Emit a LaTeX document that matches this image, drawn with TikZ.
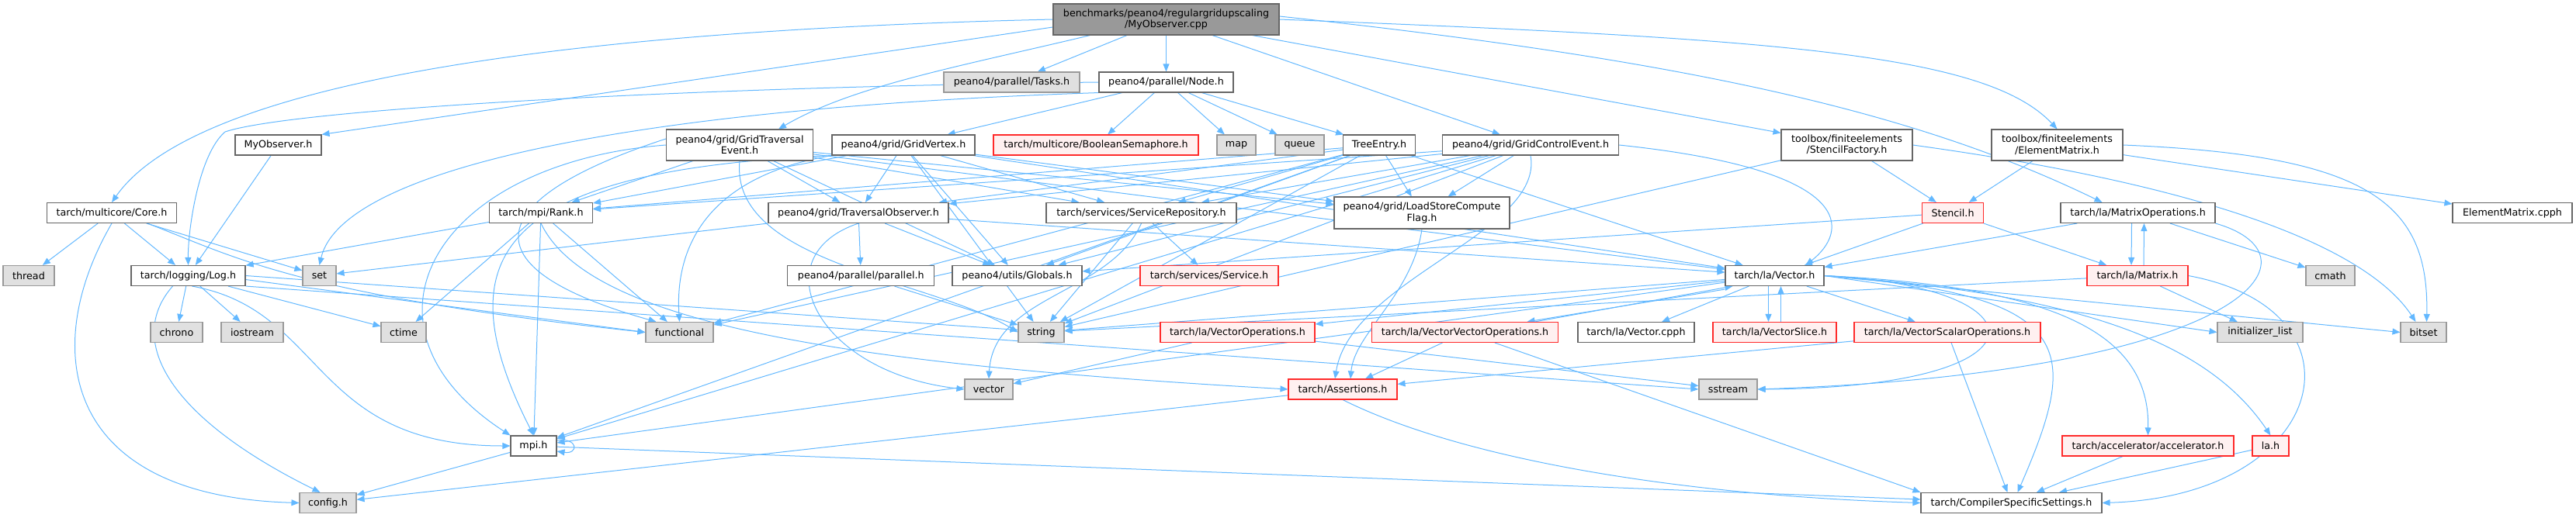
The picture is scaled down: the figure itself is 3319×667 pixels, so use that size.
\documentclass[tikz,border=0pt]{standalone}
\usepackage{fontspec}
\setmainfont{DejaVu Sans}
\usetikzlibrary{arrows.meta}
\pgfdeclarelayer{bg}
\pgfsetlayers{bg,main}
\definecolor{edgec}{HTML}{63B8FF}
\definecolor{wbord}{HTML}{666666}
\definecolor{gbord}{HTML}{999999}
\definecolor{gfill}{HTML}{E0E0E0}
\definecolor{rfill}{HTML}{FFF0F0}
\definecolor{rbord}{HTML}{FF2A2A}
\definecolor{rootfill}{HTML}{999999}
\begin{document}
\begin{tikzpicture}[x=1pt,y=-1pt,
  every node/.style={font=\fontsize{12.7}{14.5}\selectfont, inner sep=0pt, align=center, minimum height=26pt, line width=1.1pt},
  wbox/.style={draw=wbord, fill=white},
  gbox/.style={draw=gbord, fill=gfill},
  rbox/.style={draw=rbord, fill=rfill},
  rootbox/.style={draw=wbord, fill=rootfill},
  tall/.style={minimum height=40pt},
  lnk/.style={draw=edgec, line width=1pt, -{Triangle[length=10pt,width=8pt]}},
]
\useasboundingbox (0,0) rectangle (3319,667);
% row A
\node[rootbox, tall, minimum width=291pt] (root) at (1502.5,25) {benchmarks/peano4/regulargridupscaling\\/MyObserver.cpp};
% row B
\node[gbox, minimum width=175pt] (tasks) at (1303.5,106) {peano4/parallel/Tasks.h};
\node[wbox, minimum width=173pt] (node) at (1502.5,106) {peano4/parallel/Node.h};
% row C
\node[wbox, minimum width=111pt] (myobsh) at (358.5,187) {MyObserver.h};
\node[wbox, tall, minimum width=189pt] (gte) at (953,187) {peano4/grid/GridTraversal\\Event.h};
\node[wbox, minimum width=184pt] (gridvertex) at (1164,187) {peano4/grid/GridVertex.h};
\node[rbox, minimum width=264pt] (boolsem) at (1412,187) {tarch/multicore/BooleanSemaphore.h};
\node[gbox, minimum width=50pt] (map) at (1593,187) {map};
\node[gbox, minimum width=63pt] (queue) at (1674.5,187) {queue};
\node[wbox, minimum width=93pt] (treeentry) at (1777,187) {TreeEntry.h};
\node[wbox, minimum width=227pt] (gce) at (1972,187) {peano4/grid/GridControlEvent.h};
\node[wbox, tall, minimum width=169pt] (stencilfactory) at (2379.5,187) {toolbox/finiteelements\\/StencilFactory.h};
\node[wbox, tall, minimum width=169pt] (elementmatrix) at (2650.5,187) {toolbox/finiteelements\\/ElementMatrix.h};
% row D
\node[wbox, minimum width=167pt] (core) at (144,274.5) {tarch/multicore/Core.h};
\node[wbox, minimum width=133pt] (rank) at (697,274.5) {tarch/mpi/Rank.h};
\node[wbox, minimum width=232pt] (travobs) at (1106,274.5) {peano4/grid/TraversalObserver.h};
\node[wbox, minimum width=245pt] (servrepo) at (1470.5,274.5) {tarch/services/ServiceRepository.h};
\node[wbox, minimum height=41pt, minimum width=226pt] (lscf) at (1832,274.5) {peano4/grid/LoadStoreCompute\\Flag.h};
\node[rbox, minimum width=79pt] (stencil) at (2516,274.5) {Stencil.h};
\node[wbox, minimum width=199pt] (matops) at (2754.5,274.5) {tarch/la/MatrixOperations.h};
\node[wbox, minimum width=154pt] (emcpph) at (3237,274.5) {ElementMatrix.cpph};
% row E
\node[gbox, minimum width=66pt] (thread) at (37,355.5) {thread};
\node[wbox, minimum width=147pt] (log) at (242.5,355.5) {tarch/logging/Log.h};
\node[gbox, minimum width=43pt] (set) at (411.5,355.5) {set};
\node[wbox, minimum width=189pt] (parallel) at (1109.3,355.5) {peano4/parallel/parallel.h};
\node[wbox, minimum width=167pt] (globals) at (1310.5,355.5) {peano4/utils/Globals.h};
\node[rbox, minimum width=178pt] (service) at (1558,355.5) {tarch/services/Service.h};
\node[wbox, minimum width=127pt] (vectorh) at (2286.5,355.5) {tarch/la/Vector.h};
\node[rbox, minimum width=130pt] (matrix) at (2754,355.5) {tarch/la/Matrix.h};
\node[gbox, minimum width=63pt] (cmath) at (3002.5,355.5) {cmath};
% row F
\node[gbox, minimum width=67pt] (chrono) at (227.5,428.5) {chrono};
\node[gbox, minimum width=80pt] (iostream) at (325,428.5) {iostream};
\node[gbox, minimum width=58pt] (ctime) at (520,428.5) {ctime};
\node[gbox, minimum width=87pt] (functional) at (875.5,428.5) {functional};
\node[gbox, minimum width=59pt] (string) at (1341.5,428.5) {string};
\node[rbox, minimum width=199pt] (vecops) at (1594.5,428.5) {tarch/la/VectorOperations.h};
\node[rbox, minimum width=240pt] (vecvecops) at (1887.5,428.5) {tarch/la/VectorVectorOperations.h};
\node[wbox, minimum width=150pt] (veccpph) at (2108,428.5) {tarch/la/Vector.cpph};
\node[rbox, minimum width=159pt] (vecslice) at (2286.5,428.5) {tarch/la/VectorSlice.h};
\node[rbox, minimum width=240pt] (vecscalar) at (2509,428.5) {tarch/la/VectorScalarOperations.h};
\node[gbox, minimum width=110pt] (initlist) at (2912,428.5) {initializer\_list};
\node[gbox, minimum width=59pt] (bitset) at (3122.5,428.5) {bitset};
% row G
\node[gbox, minimum width=62pt] (vector) at (1274,502) {vector};
\node[rbox, minimum width=140pt] (assertions) at (1730,502) {tarch/Assertions.h};
\node[gbox, minimum width=75pt] (sstream) at (2226.5,502) {sstream};
% row H
\node[wbox, minimum width=59pt] (mpi) at (687.5,575) {mpi.h};
\node[rbox, minimum width=221pt] (accel) at (2767.5,575) {tarch/accelerator/accelerator.h};
\node[rbox, minimum width=47pt] (lah) at (2925.5,575) {la.h};
% row I
\node[gbox, minimum width=73pt] (config) at (422.5,648.5) {config.h};
\node[wbox, minimum width=233pt] (css) at (2591.5,648.5) {tarch/CompilerSpecificSettings.h};

\begin{pgfonlayer}{bg}
% straight connectors
\foreach \a/\b in {root/tasks, root/node, root/gce, root/stencilfactory,
  node/gridvertex, node/boolsem, node/map, node/queue, node/treeentry,
  myobsh/log, core/thread, core/log, core/set,
  log/chrono, log/iostream, log/ctime,
  rank/log, rank/ctime, rank/mpi, rank/functional,
  travobs/parallel, travobs/globals, travobs/vectorh, travobs/set,
  servrepo/service, servrepo/string, parallel/string,
  vecops/vector, vecops/sstream,
  vecvecops/assertions, vecscalar/assertions, vecscalar/css,
  vectorh/veccpph, vectorh/vecscalar, vectorh/vecops, vectorh/string, vectorh/mpi,
  matrix/initlist, matrix/string,
  matops/vectorh, matops/cmath,
  stencil/globals, stencil/vectorh, stencil/matrix,
  stencilfactory/stencil, stencilfactory/string,
  elementmatrix/stencil, elementmatrix/emcpph,
  assertions/config, mpi/config, mpi/css, accel/css, lah/css}
  {\draw[lnk] (\a) -- (\b);}
\foreach \t in {rank,travobs,servrepo,lscf,globals,vectorh}
  {\draw[lnk] (gte) -- (\t);}
\foreach \t in {rank,travobs,servrepo,lscf,globals,vectorh,string}
  {\draw[lnk] (gridvertex) -- (\t);}
\foreach \t in {rank,travobs,servrepo,lscf,globals,functional,vectorh,string,mpi}
  {\draw[lnk] (treeentry) -- (\t);}
\foreach \t in {rank,travobs,servrepo,lscf,globals,functional,string,mpi}
  {\draw[lnk] (gce) -- (\t);}
\draw[lnk] (vectorh.east) -- (initlist.west);
\draw[lnk] (vectorh.east) -- (bitset.west);
\draw[lnk] (vecvecops) -- (css.north west);
% pairs in both directions
\draw[lnk] ([xshift=-8pt]matops.south) -- ([xshift=-8pt]matrix.north);
\draw[lnk] ([xshift=8pt]matrix.north) -- ([xshift=8pt]matops.south);
\draw[lnk] ([xshift=-8pt]vectorh.south) -- ([xshift=-8pt]vecslice.north);
\draw[lnk] ([xshift=8pt]vecslice.north) -- ([xshift=8pt]vectorh.south);
\draw[lnk] ([yshift=-4pt]vectorh.south west) -- ([xshift=80pt]vecvecops.north);
\draw[lnk] ([xshift=90pt]vecvecops.north) -- ([xshift=10pt]vectorh.south west);
% curved connectors
\draw[lnk] (root.west) .. controls (700,40) and (250,110) .. (core.north);
\draw[lnk] ([yshift=-10pt]root.west) -- (myobsh.north east);
\draw[lnk] ([xshift=-98pt]root.south) .. controls (1240,85) and (1100,110) .. ([xshift=50pt]gte.north);
\draw[lnk] (root.east) .. controls (2300,50) and (2560,70) .. (elementmatrix.north);
\draw[lnk] ([yshift=4pt]root.east) .. controls (2200,80) and (2480,150) .. ([xshift=-46pt]matops.north);
\draw[lnk] (node.west) .. controls (900,112) and (380,140) .. (290,170) .. controls (255,200) and (242,300) .. (log.north);
\draw[lnk] (node.south west) .. controls (800,140) and (440,220) .. (set.north);
\draw[lnk] (core.south) .. controls (50,450) and (80,640) .. (config.west);
\draw[lnk] ([xshift=46pt]core.south) .. controls (300,330) and (380,380) .. (functional.west);
\draw[lnk] ([xshift=-20pt]log.south) .. controls (160,440) and (220,540) .. ([xshift=-10pt]config.north);
\draw[lnk] ([xshift=5pt]log.south) .. controls (420,400) and (400,575) .. (mpi.west);
\draw[lnk] ([yshift=-5pt]log.east) -- (functional.west);
\draw[lnk] (log.east) -- ([yshift=3pt]string.west);
\draw[lnk] (log.south east) -- (sstream.west);
\draw[lnk] (rank.south) .. controls (760,420) and (1100,470) .. (assertions.west);
\draw[lnk] (gte.south) .. controls (940,340) and (1200,360) .. (string.west);
\draw[lnk] (gte.west) .. controls (560,210) and (440,420) .. (mpi.north west);
\draw[lnk] ([yshift=8pt]gte.west) .. controls (640,250) and (580,340) .. ([xshift=-30pt]functional.north);
\draw[lnk] (gridvertex.south west) .. controls (640,220) and (570,330) .. (mpi.north);
\draw[lnk] (gridvertex.south west) .. controls (900,230) and (870,330) .. (functional.north);
\draw[lnk] (gce.east) .. controls (2400,220) and (2380,300) .. ([xshift=40pt]vectorh.north);
\draw[lnk] (gce.south) .. controls (1990,300) and (1740,360) .. ([xshift=-10pt]assertions.north);
\draw[lnk] (lscf.south) .. controls (1820,380) and (1745,430) .. ([xshift=10pt]assertions.north);
\draw[lnk] (travobs.south) .. controls (980,330) and (1050,480) .. (vector.west);
\draw[lnk] (servrepo.south) .. controls (1430,380) and (1280,380) .. (vector.north);
\draw[lnk] (vectorh.east) .. controls (2640,370) and (2650,500) .. (sstream.east);
\draw[lnk] (vectorh.east) .. controls (2680,380) and (2680,450) .. ([xshift=8pt]css.north);
\draw[lnk] (vectorh.east) .. controls (2650,370) and (2770,430) .. (accel.north);
\draw[lnk] (vectorh.east) .. controls (2700,380) and (2850,450) .. (lah.north);
\draw[lnk] (matrix.east) .. controls (3060,400) and (3000,640) .. (css.east);
\draw[lnk] (matops.south east) .. controls (3000,330) and (2900,480) .. (sstream.east);
\draw[lnk] (stencilfactory.east) .. controls (2850,240) and (3050,320) .. ([xshift=-10pt]bitset.north);
\draw[lnk] (elementmatrix.east) .. controls (3050,200) and (3130,260) .. ([xshift=4pt]bitset.north);
\draw[lnk] (assertions.south) .. controls (1900,600) and (2200,640) .. (css.west);
\draw[lnk] ([yshift=7pt]mpi.east) .. controls +(28pt,4pt) and +(28pt,-4pt) .. ([yshift=-7pt]mpi.east);
\end{pgfonlayer}
\end{tikzpicture}
\end{document}
